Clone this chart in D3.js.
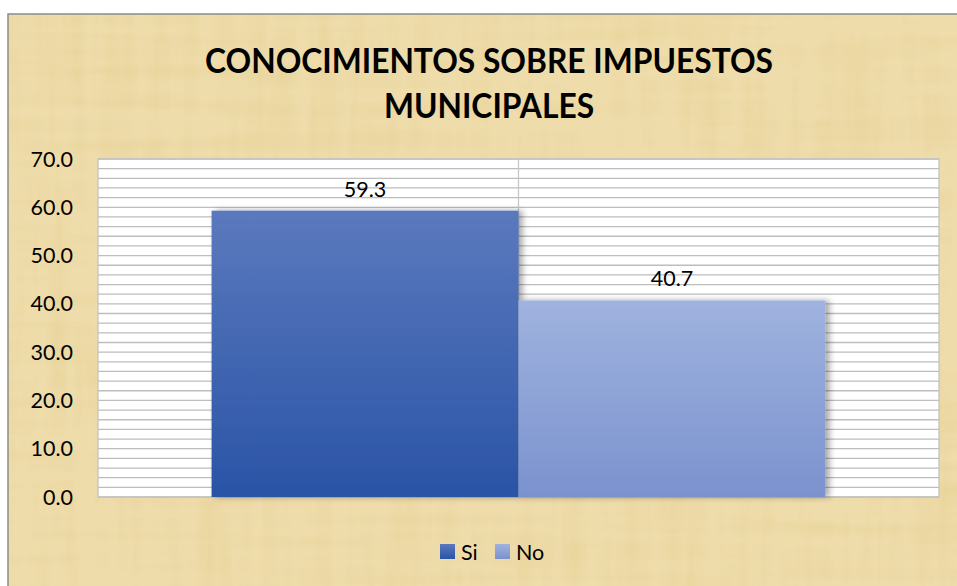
<!DOCTYPE html>
<html>
<head>
<meta charset="utf-8">
<script src="https://cdn.jsdelivr.net/npm/d3@7"></script>
<style>
  body { margin: 0; background: #fff; }
  svg { display: block; }
</style>
</head>
<body>
<svg id="chart" width="957" height="586"></svg>
<script>
// chart data
const titleLines = ["CONOCIMIENTOS SOBRE IMPUESTOS", "MUNICIPALES"];
const series = ["Si", "No"];
const values = [59.3, 40.7];
const yTicks = [0, 10, 20, 30, 40, 50, 60, 70];

const svg = d3.select("#chart");
const W = 957, H = 586;
const frame = { x: 8, y: 14 };
const plot = { left: 98, right: 939, top: 159, bottom: 497 };
const font = "Lato, 'Open Sans', sans-serif";

const defs = svg.append("defs");

// parchment texture
const tex = defs.append("filter").attr("id", "paper")
    .attr("x", 0).attr("y", 0).attr("width", "100%").attr("height", "100%");
tex.append("feTurbulence").attr("type", "fractalNoise")
    .attr("baseFrequency", "0.004 0.06").attr("numOctaves", 3).attr("seed", 4).attr("result", "n1");
tex.append("feTurbulence").attr("type", "fractalNoise")
    .attr("baseFrequency", "0.06 0.005").attr("numOctaves", 3).attr("seed", 9).attr("result", "n2");
tex.append("feComposite").attr("in", "n1").attr("in2", "n2")
    .attr("operator", "arithmetic").attr("k2", 0.5).attr("k3", 0.5).attr("result", "n");
tex.append("feColorMatrix").attr("in", "n").attr("type", "matrix")
    .attr("values", "0 0 0 0 0.80  0 0 0 0 0.64  0 0 0 0 0.30  -1.8 0 0 0 1.05");

// bar gradients
const grads = [["#5b79be", "#2a54a6"], ["#a0b3df", "#7a92ce"]];
grads.forEach((g, i) => {
    const lg = defs.append("linearGradient").attr("id", "bar" + i)
        .attr("x1", 0).attr("y1", 0).attr("x2", 0).attr("y2", 1);
    lg.append("stop").attr("offset", "0%").attr("stop-color", g[0]);
    lg.append("stop").attr("offset", "100%").attr("stop-color", g[1]);
});

const shadow = defs.append("filter").attr("id", "shadow")
    .attr("x", "-10%").attr("y", "-10%").attr("width", "130%").attr("height", "120%");
shadow.append("feGaussianBlur").attr("in", "SourceAlpha").attr("stdDeviation", 3);
shadow.append("feOffset").attr("dx", 4).attr("dy", 0).attr("result", "b");
shadow.append("feComponentTransfer").append("feFuncA").attr("type", "linear").attr("slope", 0.35);
const fm = shadow.append("feMerge");
fm.append("feMergeNode");
fm.append("feMergeNode").attr("in", "SourceGraphic");

// background frame
svg.append("rect")
    .attr("x", frame.x).attr("y", frame.y)
    .attr("width", W - frame.x + 2).attr("height", H - frame.y + 2)
    .attr("fill", "#eedcab")
    .attr("stroke", "#8a8a8a").attr("stroke-width", 1.5);
svg.append("rect")
    .attr("x", frame.x + 1).attr("y", frame.y + 1)
    .attr("width", W - frame.x).attr("height", H - frame.y)
    .attr("filter", "url(#paper)");

// scales
const y = d3.scaleLinear().domain([0, 70]).range([plot.bottom, plot.top]);
const x = d3.scaleBand().domain(series).range([plot.left, plot.right])
    .paddingInner(0).paddingOuter(0.37);

// plot area
svg.append("rect")
    .attr("x", plot.left).attr("y", plot.top)
    .attr("width", plot.right - plot.left).attr("height", plot.bottom - plot.top)
    .attr("fill", "#fff");

svg.append("g")
    .selectAll("line").data(d3.range(0, 71, 2))
    .enter().append("line")
    .attr("x1", plot.left).attr("x2", plot.right)
    .attr("y1", d => y(d)).attr("y2", d => y(d))
    .attr("stroke", "#bdbdbd").attr("stroke-width", 1.3);

svg.append("line")
    .attr("x1", x("No")).attr("x2", x("No"))
    .attr("y1", plot.top).attr("y2", plot.bottom)
    .attr("stroke", "#c8c8c8").attr("stroke-width", 1.3);

svg.append("rect")
    .attr("x", plot.left).attr("y", plot.top)
    .attr("width", plot.right - plot.left).attr("height", plot.bottom - plot.top)
    .attr("fill", "none").attr("stroke", "#c4c4c4").attr("stroke-width", 1.3);

// bars
svg.append("g")
    .selectAll("rect").data(values)
    .enter().append("rect")
    .attr("x", (d, i) => x(series[i]))
    .attr("y", d => y(d))
    .attr("width", x.bandwidth())
    .attr("height", d => y(0) - y(d))
    .attr("fill", (d, i) => `url(#bar${i})`)
    .attr("filter", "url(#shadow)");

// value labels
svg.append("g")
    .selectAll("text").data(values)
    .enter().append("text")
    .attr("x", (d, i) => x(series[i]) + x.bandwidth() / 2)
    .attr("y", d => y(d) - 14)
    .attr("text-anchor", "middle")
    .attr("font-family", font)
    .attr("font-size", 21.5)
    .attr("fill", "#000")
    .text(d => d.toFixed(1));

// y axis labels
svg.append("g")
    .selectAll("text").data(yTicks)
    .enter().append("text")
    .attr("x", 73)
    .attr("y", d => y(d) + 7.5)
    .attr("text-anchor", "end")
    .attr("font-family", font)
    .attr("font-size", 21.5)
    .attr("fill", "#000")
    .text(d => d.toFixed(1));

// title (Calibri is narrower, so squeeze to the reference width)
const title = svg.append("g")
    .selectAll("text").data(titleLines)
    .enter().append("text")
    .attr("x", 489)
    .attr("y", (d, i) => 73 + i * 45)
    .attr("text-anchor", "middle")
    .attr("font-family", font)
    .attr("font-weight", "bold")
    .attr("font-size", 35)
    .attr("fill", "#000")
    .text(d => d);
const squeeze = 568 / title.node().getComputedTextLength();
title.each(function () {
    const len = this.getComputedTextLength();
    d3.select(this).attr("textLength", len * squeeze).attr("lengthAdjust", "spacingAndGlyphs");
});

// legend
const legend = svg.append("g").selectAll("g").data(series)
    .enter().append("g")
    .attr("transform", (d, i) => `translate(${440 + i * 55},544)`);
legend.append("rect")
    .attr("width", 15).attr("height", 15)
    .attr("fill", (d, i) => `url(#bar${i})`);
legend.append("text")
    .attr("x", 21).attr("y", 15.5)
    .attr("font-family", font)
    .attr("font-size", 21.5)
    .attr("fill", "#000")
    .text(d => d);
</script>
</body>
</html>
